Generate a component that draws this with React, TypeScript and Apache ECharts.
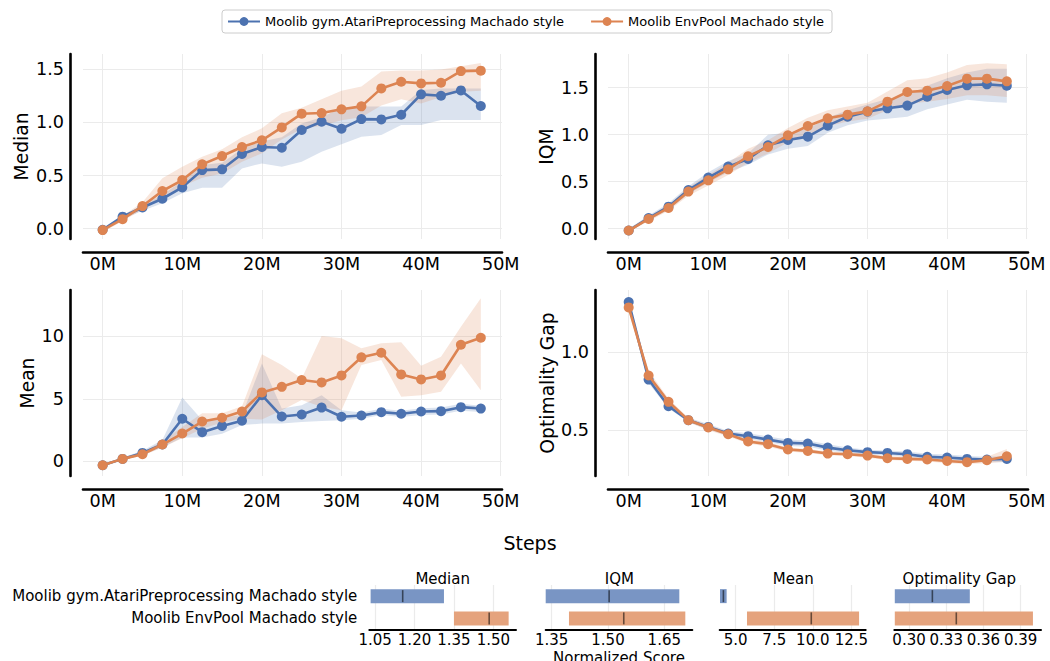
import React, { useEffect, useRef } from 'react';
import * as echarts from 'echarts';

// ---------------- data ----------------
const METHOD_A = 'Moolib gym.AtariPreprocessing Machado style';
const METHOD_B = 'Moolib EnvPool Machado style';
const STEPS = [0, 2.5, 5, 7.5, 10, 12.5, 15, 17.5, 20, 22.5, 25, 27.5, 30, 32.5, 35, 37.5, 40, 42.5, 45, 47.5];
const X_TICKS = [0, 10, 20, 30, 40, 50];

// Median
const MEDIAN_A = [-0.01, 0.113, 0.2, 0.282, 0.389, 0.552, 0.559, 0.703, 0.769, 0.762, 0.929, 1.007, 0.941, 1.032, 1.029, 1.073, 1.265, 1.252, 1.302, 1.155];
const MEDIAN_A_LO = [-0.02, 0.09, 0.17, 0.24, 0.333, 0.386, 0.386, 0.568, 0.615, 0.584, 0.63, 0.725, 0.795, 0.866, 0.882, 0.976, 0.976, 1.024, 1.024, 1.024];
const MEDIAN_A_HI = [0.0, 0.13, 0.22, 0.32, 0.45, 0.6, 0.62, 0.75, 0.82, 0.86, 0.99, 1.05, 1.14, 1.15, 1.15, 1.15, 1.306, 1.32, 1.32, 1.32];
const MEDIAN_B = [-0.013, 0.09, 0.213, 0.355, 0.458, 0.606, 0.684, 0.769, 0.832, 0.954, 1.083, 1.089, 1.124, 1.152, 1.321, 1.384, 1.368, 1.374, 1.484, 1.488];
const MEDIAN_B_LO = [-0.03, 0.07, 0.18, 0.3, 0.4, 0.48, 0.52, 0.63, 0.71, 0.84, 0.94, 0.97, 1.02, 1.05, 1.16, 1.22, 1.18, 1.24, 1.29, 1.3];
const MEDIAN_B_HI = [0.0, 0.12, 0.25, 0.475, 0.584, 0.678, 0.747, 0.86, 0.945, 1.087, 1.14, 1.22, 1.3, 1.34, 1.48, 1.49, 1.49, 1.5, 1.53, 1.56];
const MEDIAN_TICKS = [0, 0.5, 1.0, 1.5];

// IQM
const IQM_A = [-0.02, 0.113, 0.234, 0.411, 0.543, 0.66, 0.741, 0.887, 0.943, 0.979, 1.096, 1.191, 1.245, 1.28, 1.309, 1.404, 1.475, 1.525, 1.535, 1.521];
const IQM_A_LO = [-0.03, 0.09, 0.2, 0.37, 0.49, 0.6, 0.68, 0.79, 0.85, 0.88, 1.02, 1.1, 1.15, 1.17, 1.19, 1.27, 1.32, 1.37, 1.35, 1.34];
const IQM_A_HI = [0.0, 0.14, 0.27, 0.45, 0.6, 0.72, 0.8, 1.0, 1.02, 1.06, 1.18, 1.26, 1.32, 1.38, 1.42, 1.52, 1.6, 1.66, 1.7, 1.7];
const IQM_B = [-0.02, 0.103, 0.22, 0.394, 0.514, 0.631, 0.77, 0.869, 0.993, 1.092, 1.174, 1.213, 1.248, 1.351, 1.454, 1.468, 1.518, 1.596, 1.596, 1.567];
const IQM_B_LO = [-0.03, 0.08, 0.19, 0.35, 0.46, 0.57, 0.7, 0.8, 0.92, 1.0, 1.09, 1.14, 1.17, 1.26, 1.33, 1.35, 1.38, 1.42, 1.42, 1.4];
const IQM_B_HI = [0.0, 0.13, 0.25, 0.44, 0.57, 0.7, 0.85, 0.94, 1.07, 1.18, 1.26, 1.3, 1.34, 1.46, 1.58, 1.6, 1.66, 1.74, 1.76, 1.75];
const IQM_TICKS = [0, 0.5, 1.0, 1.5];

// Mean
const MEAN_A = [-0.32, 0.19, 0.67, 1.34, 3.4, 2.33, 2.83, 3.24, 5.29, 3.58, 3.74, 4.3, 3.56, 3.66, 3.93, 3.8, 3.98, 4.01, 4.33, 4.22];
const MEAN_A_LO = [-0.4, 0.1, 0.5, 1.1, 1.9, 1.9, 2.2, 2.9, 3.02, 3.02, 3.15, 3.23, 3.29, 3.4, 3.7, 3.55, 3.7, 3.75, 4.05, 3.95];
const MEAN_A_HI = [-0.25, 0.3, 0.85, 1.7, 5.1, 3.3, 3.5, 3.7, 7.83, 4.22, 4.49, 5.29, 4.09, 3.9, 4.2, 4.05, 4.25, 4.3, 4.6, 4.45];
const MEAN_B = [-0.32, 0.19, 0.56, 1.34, 2.22, 3.18, 3.48, 3.98, 5.51, 5.96, 6.5, 6.31, 6.87, 8.32, 8.69, 6.95, 6.55, 6.87, 9.33, 9.89];
const MEAN_B_LO = [-0.4, 0.1, 0.45, 1.1, 1.85, 2.6, 3.1, 3.4, 3.34, 4.09, 4.9, 4.36, 4.09, 7.7, 8.1, 5.16, 5.29, 5.56, 7.83, 5.69];
const MEAN_B_HI = [-0.25, 0.3, 0.7, 1.6, 2.75, 3.85, 3.85, 4.4, 8.56, 7.7, 6.63, 10.02, 9.84, 9.04, 9.44, 9.52, 7.64, 8.36, 10.77, 13.05];
const MEAN_TICKS = [0, 5, 10];

// Optimality Gap
const OG_A = [1.317, 0.823, 0.653, 0.564, 0.521, 0.479, 0.462, 0.44, 0.419, 0.415, 0.389, 0.372, 0.36, 0.355, 0.347, 0.33, 0.326, 0.317, 0.313, 0.317];
const OG_A_LO = [1.3, 0.8, 0.64, 0.55, 0.505, 0.465, 0.445, 0.425, 0.4, 0.395, 0.37, 0.355, 0.345, 0.34, 0.33, 0.315, 0.31, 0.3, 0.295, 0.295];
const OG_A_HI = [1.33, 0.84, 0.67, 0.58, 0.54, 0.495, 0.48, 0.46, 0.44, 0.435, 0.41, 0.39, 0.375, 0.37, 0.365, 0.35, 0.345, 0.335, 0.33, 0.335];
const OG_B = [1.283, 0.849, 0.681, 0.564, 0.517, 0.474, 0.428, 0.411, 0.377, 0.368, 0.351, 0.347, 0.338, 0.321, 0.317, 0.313, 0.304, 0.296, 0.309, 0.334];
const OG_B_LO = [1.26, 0.82, 0.66, 0.55, 0.5, 0.46, 0.415, 0.395, 0.365, 0.355, 0.34, 0.335, 0.325, 0.31, 0.305, 0.3, 0.29, 0.285, 0.29, 0.3];
const OG_B_HI = [1.3, 0.88, 0.7, 0.58, 0.53, 0.49, 0.445, 0.425, 0.39, 0.38, 0.365, 0.36, 0.35, 0.335, 0.33, 0.325, 0.315, 0.31, 0.33, 0.38];
const OG_TICKS = [0.5, 1.0];

// Aggregate interval estimates (final)
const INTERVAL_METRICS = ['Median', 'IQM', 'Mean', 'Optimality Gap'];
const INT_A_LO = [1.033, 1.334, 3.98, 0.2885];
const INT_A_HI = [1.312, 1.69, 4.41, 0.349];
const INT_A_PT = [1.155, 1.503, 4.2, 0.3188];
const INT_B_LO = [1.35, 1.396, 5.73, 0.2885];
const INT_B_HI = [1.558, 1.706, 13.0, 0.3999];
const INT_B_PT = [1.484, 1.542, 9.9, 0.3381];
const INT_TICKS = [
  [1.05, 1.2, 1.35, 1.5],
  [1.35, 1.5, 1.65],
  [5.0, 7.5, 10.0, 12.5],
  [0.3, 0.33, 0.36, 0.39],
];

// ---------------- style / layout ----------------
const FONT = 'DejaVu Sans';
const BLUE = '#4C72B0';
const ORANGE = '#DD8452';
const BLUE_BAR = '#7995C4';
const ORANGE_BAR = '#E5A37D';
const GRID_LINE = '#ebebeb';

const PANELS = [
  { name: 'Median', a: MEDIAN_A, aLo: MEDIAN_A_LO, aHi: MEDIAN_A_HI, b: MEDIAN_B, bLo: MEDIAN_B_LO, bHi: MEDIAN_B_HI,
    ticks: MEDIAN_TICKS, dec: 1, yMin: -0.097, yMax: 1.645, xMin: -2.47, xMax: 50.16,
    grid: { left: 83, top: 54, width: 419, height: 185 }, nameGap: 39 },
  { name: 'IQM', a: IQM_A, aLo: IQM_A_LO, aHi: IQM_A_HI, b: IQM_B, bLo: IQM_B_LO, bHi: IQM_B_HI,
    ticks: IQM_TICKS, dec: 1, yMin: -0.11, yMax: 1.858, xMin: -2.6, xMax: 50.16,
    grid: { left: 608, top: 54, width: 420, height: 185 }, nameGap: 39 },
  { name: 'Mean', a: MEAN_A, aLo: MEAN_A_LO, aHi: MEAN_A_HI, b: MEAN_B, bLo: MEAN_B_LO, bHi: MEAN_B_HI,
    ticks: MEAN_TICKS, dec: 0, yMin: -1.18, yMax: 13.71, xMin: -2.47, xMax: 50.16,
    grid: { left: 83, top: 290, width: 419, height: 186 }, nameGap: 33 },
  { name: 'Optimality Gap', a: OG_A, aLo: OG_A_LO, aHi: OG_A_HI, b: OG_B, bLo: OG_B_LO, bHi: OG_B_HI,
    ticks: OG_TICKS, dec: 1, yMin: 0.208, yMax: 1.394, xMin: -2.6, xMax: 50.16,
    grid: { left: 608, top: 290, width: 420, height: 186 }, nameGap: 36 },
];

const INT_LAYOUT = [
  { left: 369.3, width: 146.7, min: 1.028, max: 1.586, dec: 2, cx: 442.7 },
  { left: 545.7, width: 146.6, min: 1.334, max: 1.7246, dec: 2, cx: 619.3 },
  { left: 719.7, width: 146, min: 3.96, max: 13.43, dec: 1, cx: 793.3 },
  { left: 894.3, width: 146.7, min: 0.2881, max: 0.4064, dec: 2, cx: 959.3 },
];
const INT_TOP = 585;
const INT_HEIGHT = 44.5;

function bandSeries(idx: number, lo: number[], hi: number[], color: string) {
  return {
    type: 'custom',
    xAxisIndex: idx,
    yAxisIndex: idx,
    silent: true,
    z: 1,
    data: STEPS.map((s, k) => [s, lo[k], hi[k]]),
    encode: { x: 0, y: [1, 2] },
    renderItem: (params: any, api: any) => {
      if (params.dataIndex !== 0) return { type: 'group', children: [] };
      const pts: number[][] = [];
      for (let k = 0; k < STEPS.length; k++) pts.push(api.coord([STEPS[k], hi[k]]));
      for (let k = STEPS.length - 1; k >= 0; k--) pts.push(api.coord([STEPS[k], lo[k]]));
      return { type: 'polygon', shape: { points: pts }, style: { fill: color, opacity: 0.2 } };
    },
  };
}

function lineSeries(idx: number, name: string, vals: number[], color: string, z: number) {
  return {
    type: 'line',
    name,
    xAxisIndex: idx,
    yAxisIndex: idx,
    data: STEPS.map((s, k) => [s, vals[k]]),
    symbol: 'circle',
    symbolSize: 10,
    z,
    lineStyle: { color, width: 2.6 },
    itemStyle: { color },
  };
}

function buildOption() {
  const grid: any[] = [];
  const xAxis: any[] = [];
  const yAxis: any[] = [];
  const series: any[] = [];

  PANELS.forEach((p, i) => {
    grid.push({ ...p.grid, containLabel: false });
    xAxis.push({
      type: 'value', gridIndex: i, min: p.xMin, max: p.xMax, offset: 13,
      axisLine: { show: true, onZero: false, lineStyle: { color: '#000', width: 2.6 } },
      axisTick: { show: false, customValues: X_TICKS },
      axisLabel: { customValues: X_TICKS, formatter: (v: number) => `${v}M`, fontFamily: FONT, fontSize: 17.6, color: '#000', margin: 3 },
      splitLine: { show: true, lineStyle: { color: GRID_LINE, width: 1 } },
    });
    yAxis.push({
      type: 'value', gridIndex: i, min: p.yMin, max: p.yMax, offset: 13,
      name: p.name, nameLocation: 'middle', nameGap: p.nameGap,
      nameTextStyle: { fontFamily: FONT, fontSize: 18.7, color: '#000' },
      axisLine: { show: true, onZero: false, lineStyle: { color: '#000', width: 2.6 } },
      axisTick: { show: false, customValues: p.ticks },
      axisLabel: { customValues: p.ticks, formatter: (v: number) => v.toFixed(p.dec), fontFamily: FONT, fontSize: 17.6, color: '#000', margin: 6 },
      splitLine: { show: true, lineStyle: { color: GRID_LINE, width: 1 } },
    });
    series.push(bandSeries(i, p.aLo, p.aHi, BLUE));
    series.push(bandSeries(i, p.bLo, p.bHi, ORANGE));
    series.push(lineSeries(i, METHOD_A, p.a, BLUE, 3));
    series.push(lineSeries(i, METHOD_B, p.b, ORANGE, 4));
  });

  INT_LAYOUT.forEach((L, j) => {
    const gi = 4 + j;
    grid.push({ left: L.left, width: L.width, top: INT_TOP, height: INT_HEIGHT, containLabel: false });
    xAxis.push({
      type: 'value', gridIndex: gi, min: L.min, max: L.max,
      axisLine: { show: true, onZero: false, lineStyle: { color: '#000', width: 2 } },
      axisTick: { show: false, customValues: INT_TICKS[j] },
      axisLabel: { customValues: INT_TICKS[j], formatter: (v: number) => v.toFixed(L.dec), fontFamily: FONT, fontSize: 15, color: '#000', margin: 3 },
      splitLine: { show: true, lineStyle: { color: GRID_LINE, width: 1.2 } },
    });
    yAxis.push({
      type: 'category', gridIndex: gi, inverse: true, data: [METHOD_A, METHOD_B],
      axisLine: { show: false }, axisTick: { show: false }, splitLine: { show: false },
      axisLabel: { show: j === 0, fontFamily: FONT, fontSize: 15, color: '#000', margin: 12 },
    });
    series.push({
      type: 'custom',
      xAxisIndex: gi,
      yAxisIndex: gi,
      silent: true,
      data: [
        [INT_A_LO[j], INT_A_HI[j], INT_A_PT[j], 0],
        [INT_B_LO[j], INT_B_HI[j], INT_B_PT[j], 1],
      ],
      encode: { x: [0, 1, 2], y: 3 },
      renderItem: (params: any, api: any) => {
        const row = api.value(3);
        const p0 = api.coord([api.value(0), row]);
        const p1 = api.coord([api.value(1), row]);
        const pm = api.coord([api.value(2), row]);
        const h = 14;
        return {
          type: 'group',
          children: [
            { type: 'rect', shape: { x: p0[0], y: p0[1] - h / 2, width: p1[0] - p0[0], height: h },
              style: { fill: row === 0 ? BLUE_BAR : ORANGE_BAR } },
            { type: 'line', shape: { x1: pm[0], y1: p0[1] - h / 2 + 1, x2: pm[0], y2: p0[1] + h / 2 - 1 },
              style: { stroke: 'rgba(0,0,0,0.55)', lineWidth: 1.6 } },
          ],
        };
      },
    });
  });

  const graphic: any[] = [
    { type: 'text', x: 530, y: 543, style: { text: 'Steps', font: `19px "${FONT}"`, fill: '#000', textAlign: 'center', textVerticalAlign: 'middle' } },
    { type: 'text', x: 619, y: 658, style: { text: 'Normalized Score', font: `15px "${FONT}"`, fill: '#000', textAlign: 'center', textVerticalAlign: 'middle' } },
  ];
  INT_LAYOUT.forEach((L, j) => {
    graphic.push({ type: 'text', x: L.cx, y: 579, style: { text: INTERVAL_METRICS[j], font: `15px "${FONT}"`, fill: '#000', textAlign: 'center', textVerticalAlign: 'middle' } });
  });

  return {
    animation: false,
    backgroundColor: '#fff',
    textStyle: { fontFamily: FONT },
    legend: {
      data: [METHOD_A, METHOD_B],
      left: 222,
      top: 10,
      padding: [5, 8, 5, 5],
      itemGap: 26,
      itemWidth: 32,
      itemHeight: 11,
      borderColor: '#cccccc',
      borderWidth: 1,
      borderRadius: 3,
      backgroundColor: '#fff',
      textStyle: { fontFamily: FONT, fontSize: 13, color: '#000' },
    },
    grid,
    xAxis,
    yAxis,
    series,
    graphic,
  };
}

export default function App() {
  const ref = useRef<HTMLDivElement>(null);
  useEffect(() => {
    if (!ref.current) return;
    const chart = echarts.init(ref.current, undefined, { renderer: 'svg' });
    chart.setOption(buildOption() as any);
    return () => chart.dispose();
  }, []);
  return <div ref={ref} style={{ width: 1050, height: 661, position: 'absolute', left: 0, top: 0 }} />;
}
